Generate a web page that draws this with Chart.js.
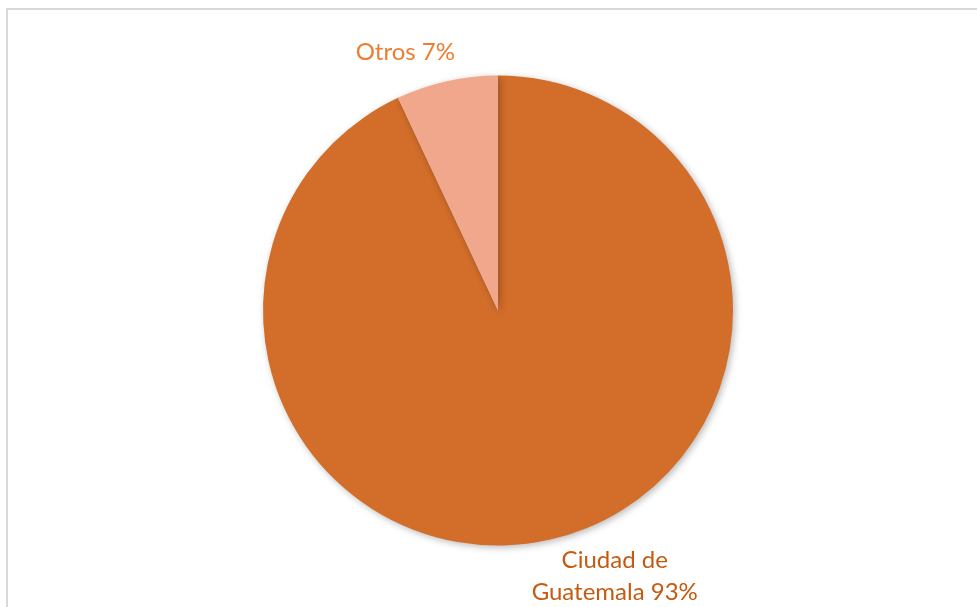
<!DOCTYPE html>
<html>
<head>
<meta charset="utf-8">
<script src="https://cdn.jsdelivr.net/npm/chart.js@4.4.1/dist/chart.umd.min.js"></script>
<style>
  html, body { margin: 0; padding: 0; background: #fff; }
  #wrap { width: 977px; height: 607px; position: relative; }
</style>
</head>
<body>
<div id="wrap"><canvas id="pieChart" width="977" height="607"></canvas></div>
<script>
// data
const categories = ["Ciudad de Guatemala", "Otros"];
const shares = [93, 7];
const labelLines = [["Ciudad de", "Guatemala 93%"], ["Otros 7%"]];

const sliceColors = ["#D26D2A", "#F0A78B"];
const labelColors = ["#C55A11", "#ED7D31"];
// nudge of each label block from its slice anchor (px)
const labelNudge = [[60, 12], [-36, -4]];

// grey frame around the chart area
const framePlugin = {
    id: "frame",
    beforeDraw(chart) {
        const c = chart.ctx;
        c.save();
        c.strokeStyle = "#d9d9d9";
        c.lineWidth = 2;
        c.strokeRect(7, 9, 1000, 700);
        c.restore();
    }
};

// soft shadow under the pie
const shadowPlugin = {
    id: "pieShadow",
    beforeDatasetsDraw(chart) {
        const c = chart.ctx;
        c.save();
        c.shadowColor = "rgba(0,0,0,0.28)";
        c.shadowBlur = 7;
        c.shadowOffsetX = 2;
        c.shadowOffsetY = 2;
    },
    afterDatasetsDraw(chart) {
        chart.ctx.restore();
    }
};

// outside labels, anchored on each slice's mid angle
const outLabels = {
    id: "outLabels",
    afterDraw(chart) {
        const c = chart.ctx;
        const meta = chart.getDatasetMeta(0);
        c.save();
        c.font = "24px Lato";
        c.textAlign = "center";
        c.textBaseline = "middle";
        meta.data.forEach((arc, i) => {
            const p = arc.getProps(["x", "y", "startAngle", "endAngle", "outerRadius"], true);
            const mid = (p.startAngle + p.endAngle) / 2;
            const r = p.outerRadius + 25;
            const ax = p.x + Math.cos(mid) * r + labelNudge[i][0];
            const ay = p.y + Math.sin(mid) * r + labelNudge[i][1];
            const lines = labelLines[i];
            const lh = 32;
            const top = ay - (lines.length - 1) * lh / 2;
            c.fillStyle = labelColors[i];
            lines.forEach((t, k) => c.fillText(t, ax, top + k * lh));
        });
        c.restore();
    }
};

new Chart(document.getElementById("pieChart").getContext("2d"), {
    type: "pie",
    data: {
        labels: categories,
        datasets: [{
            data: shares,
            backgroundColor: sliceColors,
            borderWidth: 0
        }]
    },
    options: {
        responsive: false,
        animation: false,
        layout: { padding: { top: 75, bottom: 61, left: 263, right: 244 } },
        plugins: {
            legend: { display: false },
            tooltip: { enabled: false }
        }
    },
    plugins: [framePlugin, shadowPlugin, outLabels]
});
</script>
</body>
</html>
